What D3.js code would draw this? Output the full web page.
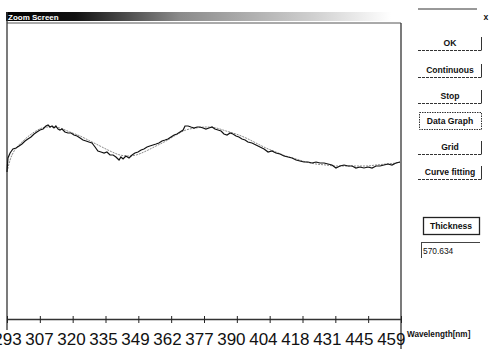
<!DOCTYPE html>
<html>
<head>
<meta charset="utf-8">
<script src="https://cdn.jsdelivr.net/npm/d3@7"></script>
<style>
  body { margin: 0; background: #fff; }
  svg { display: block; }
  .btn { font-family: "Liberation Sans", Arial, sans-serif; font-weight: bold; font-size: 8.6px; fill: #111; }
</style>
</head>
<body>
<div id="chart"></div>
<script>
// wavelength [nm] of the measured spectrum
const measuredNm = [293.0, 293.4, 294.3, 295.5, 296.8, 298.1, 299.3, 300.6, 301.8, 303.1, 304.4, 305.6, 306.9, 308.2, 309.4, 310.3, 311.1, 312.0, 312.8, 313.6, 314.5, 315.3, 316.2, 317.4, 318.7, 320.0, 321.2, 322.5, 323.8, 325.0, 326.3, 327.5, 328.8, 330.1, 331.3, 332.6, 333.9, 335.1, 336.4, 337.7, 338.9, 340.2, 341.0, 341.9, 343.1, 344.4, 345.7, 346.9, 348.2, 349.5, 350.7, 352.0, 353.2, 354.5, 355.8, 357.0, 358.3, 359.6, 360.8, 362.1, 363.4, 364.6, 365.9, 367.2, 368.0, 369.3, 370.5, 371.8, 373.1, 374.3, 375.6, 376.8, 378.1, 379.4, 380.6, 381.9, 383.2, 384.4, 385.7, 387.0, 388.2, 389.5, 390.7, 392.0, 393.3, 394.5, 396.2, 397.9, 399.6, 401.3, 403.0, 404.6, 406.3, 408.0, 409.7, 411.4, 413.1, 414.8, 416.4, 418.1, 419.8, 421.5, 423.2, 424.9, 426.6, 428.2, 429.9, 431.6, 433.3, 435.0, 436.7, 438.4, 440.0, 441.7, 443.4, 445.1, 446.8, 448.5, 450.2, 451.8, 453.5, 455.2, 456.9, 458.6];
const measuredVal = [73, 80, 82.5, 84.5, 85, 86, 87, 88.5, 89.5, 90.5, 92, 93, 94, 94.5, 96, 96.5, 95.5, 96, 95, 96, 94.5, 94, 94.5, 93, 92.5, 92.5, 91.5, 91, 90, 89, 88.5, 88, 87.5, 85.5, 83.5, 83, 82.5, 83, 81.5, 81.5, 80.5, 79, 80.5, 79.5, 81, 80, 81.5, 82.5, 83, 84, 84.5, 85.5, 86, 86.5, 87, 87.5, 88.5, 89, 89.5, 90.5, 91.5, 92, 93, 94, 96, 96, 95.5, 95, 95.5, 95.5, 95, 94.5, 95, 95.5, 94.5, 94, 93.5, 92, 91.5, 92.5, 92, 91, 90.5, 89.5, 89, 88, 87.5, 86.5, 85.5, 84.5, 83, 83.5, 82.5, 82, 81, 80.5, 80, 79, 78.5, 78, 78, 77.5, 78, 77.5, 77.5, 77, 76.5, 75, 76, 76.5, 76, 76, 75, 75.5, 75, 75.5, 75, 76, 76, 76.5, 77, 76.5, 77.5, 78];

// fitted curve
const fitNm = [293.0, 294.3, 296.0, 297.6, 300.2, 302.7, 305.2, 307.7, 310.3, 312.8, 315.3, 319.5, 323.8, 328.0, 332.2, 336.4, 340.6, 344.0, 347.4, 351.6, 355.8, 360.0, 364.2, 368.4, 372.6, 376.8, 381.1, 385.3, 389.5, 393.7, 397.9, 402.1, 406.3, 410.5, 414.8, 419.0, 423.2, 427.4, 431.6, 435.8, 440.0, 444.3, 448.5, 452.7, 456.9, 459.0];
const fitVal = [73, 79, 83.5, 86, 89, 91.5, 93.5, 95, 95.5, 95.5, 95, 93, 91, 88.5, 86, 83.5, 81.5, 81, 81.5, 83.5, 86, 88.5, 91.5, 94, 95, 95.5, 95, 93.5, 92, 90, 87.5, 85, 83, 81, 79.5, 78, 77, 76.5, 76, 76, 76, 76, 76.5, 77, 77.5, 78];

const tickLabels = ['293', '307', '320', '335', '349', '362', '377', '390', '404', '418', '431', '445', '459'];
const buttons = ['OK', 'Continuous', 'Stop', 'Data Graph', 'Grid', 'Curve fitting'];
const thicknessValue = '570.634';

const width = 491, height = 349;
const plot = {left: 7, right: 401, top: 24, bottom: 319};

const svg = d3.select('#chart').append('svg')
  .attr('width', width)
  .attr('height', height);

// title bar
const grad = svg.append('defs').append('linearGradient').attr('id', 'tb');
grad.append('stop').attr('offset', '0%').attr('stop-color', '#000');
grad.append('stop').attr('offset', '18%').attr('stop-color', '#111');
grad.append('stop').attr('offset', '45%').attr('stop-color', '#8a8a8a');
grad.append('stop').attr('offset', '80%').attr('stop-color', '#d0d0d0');
grad.append('stop').attr('offset', '100%').attr('stop-color', '#fff');
svg.append('rect').attr('x', 6).attr('y', 12).attr('width', 385).attr('height', 9).attr('fill', 'url(#tb)');
svg.append('text')
  .attr('x', 8).attr('y', 19.5)
  .attr('fill', '#fff')
  .style('font-family', '"Liberation Sans", Arial, sans-serif')
  .style('font-weight', 'bold')
  .style('font-size', '8px')
  .text('Zoom Screen');

const x = d3.scaleLinear().domain([293, 459]).range([plot.left, plot.right]);
const y = d3.scaleLinear().domain([0, 147]).range([318, 24]);

// frame
svg.append('line').attr('x1', plot.left).attr('x2', plot.right).attr('y1', 23).attr('y2', 23)
  .attr('stroke', '#555').attr('stroke-width', 1);
svg.append('line').attr('x1', plot.left).attr('x2', plot.left).attr('y1', 12).attr('y2', 330)
  .attr('stroke', '#333').attr('stroke-width', 1.3);
svg.append('line').attr('x1', plot.right).attr('x2', plot.right).attr('y1', 23).attr('y2', 349)
  .attr('stroke', '#333').attr('stroke-width', 1.3);

const tickVals = tickLabels.map((d, i) => 293 + i * (459 - 293) / (tickLabels.length - 1));

const xAxis = svg.append('g')
  .attr('transform', `translate(0,${plot.bottom})`)
  .call(d3.axisBottom(x)
    .tickValues(tickVals)
    .tickFormat((d, i) => tickLabels[i])
    .tickSizeInner(4)
    .tickSizeOuter(0)
    .tickPadding(10));
xAxis.select('.domain').attr('stroke', '#333').attr('stroke-width', 1.3);
xAxis.selectAll('.tick line').attr('y1', -3).attr('y2', 4).attr('stroke', '#222');
// labels in the scan drift a bit left of their ticks
xAxis.selectAll('.tick text')
  .attr('dx', (d, i) => -i * 0.85)
  .style('font-family', '"Liberation Sans", Arial, sans-serif')
  .style('font-size', '17px')
  .attr('fill', '#111');

svg.append('text')
  .attr('x', 407).attr('y', 337)
  .style('font-family', '"Liberation Sans", Arial, sans-serif')
  .style('font-weight', 'bold')
  .style('font-size', '8.2px')
  .attr('fill', '#111')
  .text('Wavelength[nm]');

// curves
const fitLine = d3.line()
  .x((d, i) => x(fitNm[i]))
  .y(d => y(d))
  .curve(d3.curveMonotoneX);
svg.append('path')
  .datum(fitVal)
  .attr('d', fitLine)
  .attr('fill', 'none')
  .attr('stroke', '#8a8a8a')
  .attr('stroke-width', 1)
  .attr('stroke-dasharray', '2,1');

const measLine = d3.line()
  .x((d, i) => x(measuredNm[i]))
  .y(d => y(d));
svg.append('path')
  .datum(measuredVal)
  .attr('d', measLine)
  .attr('fill', 'none')
  .attr('stroke', '#111')
  .attr('stroke-width', 1.2);

// right-side control panel
const panel = svg.append('g');
panel.append('line').attr('x1', 418).attr('x2', 477).attr('y1', 9).attr('y2', 9).attr('stroke', '#333');
panel.append('text').attr('class', 'btn').attr('x', 486).attr('y', 20).attr('text-anchor', 'middle').text('x');

const btnCenters = [43, 70, 96, 121, 147, 172];
buttons.forEach((name, i) => {
  const cy = btnCenters[i];
  if (name === 'Data Graph') {
    panel.append('rect').attr('x', 419.5).attr('y', cy - 8.5).attr('width', 62).attr('height', 17)
      .attr('fill', 'none').attr('stroke', '#333').attr('stroke-dasharray', '1.5,1');
  } else {
    panel.append('line').attr('x1', 418).attr('x2', 482).attr('y1', cy + 7.5).attr('y2', cy + 7.5)
      .attr('stroke', '#333').attr('stroke-dasharray', '3,1');
    panel.append('line').attr('x1', 481.5).attr('x2', 481.5).attr('y1', cy - 6).attr('y2', cy + 7.5)
      .attr('stroke', '#333');
  }
  panel.append('text').attr('class', 'btn')
    .attr('x', 450).attr('y', cy + 3)
    .attr('text-anchor', 'middle')
    .text(name);
});

panel.append('rect').attr('x', 423.5).attr('y', 217.5).attr('width', 56).attr('height', 17)
  .attr('fill', 'none').attr('stroke', '#222').attr('stroke-width', 1.3);
panel.append('text').attr('class', 'btn').attr('x', 451).attr('y', 229).attr('text-anchor', 'middle').text('Thickness');

panel.append('line').attr('x1', 421).attr('x2', 480).attr('y1', 242.5).attr('y2', 242.5).attr('stroke', '#444');
panel.append('line').attr('x1', 421.5).attr('x2', 421.5).attr('y1', 242).attr('y2', 258).attr('stroke', '#444');
panel.append('text')
  .attr('x', 423).attr('y', 254)
  .style('font-family', '"Liberation Sans", Arial, sans-serif')
  .style('font-size', '8.4px')
  .attr('fill', '#111')
  .text(thicknessValue);
</script>
</body>
</html>
